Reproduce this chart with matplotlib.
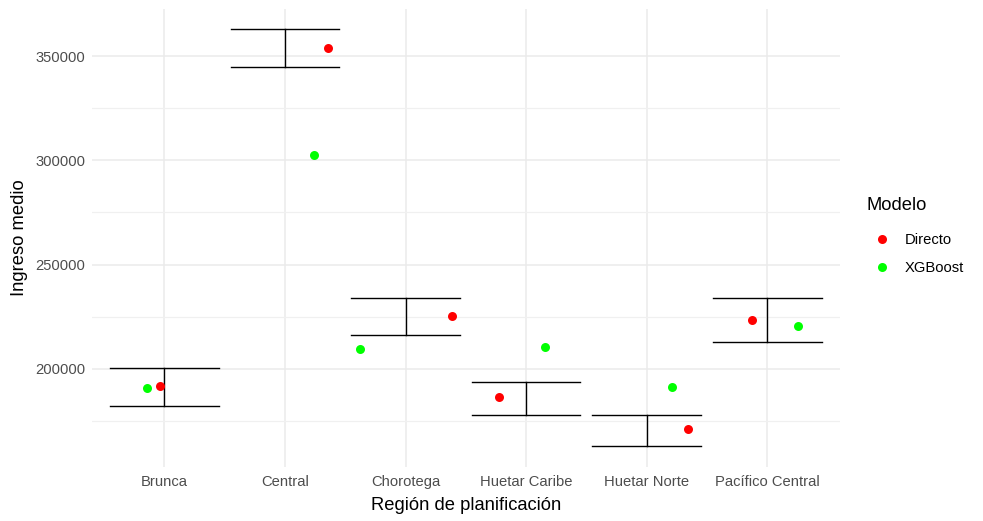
import matplotlib.pyplot as plt
from matplotlib.lines import Line2D
import numpy as np

plt.rcParams['font.family'] = ['Liberation Sans', 'DejaVu Sans']

# datos
regiones = ['Brunca', 'Central', 'Chorotega', 'Huetar Caribe', 'Huetar Norte', 'Pacífico Central']
ic_sup = [200180, 362860, 233790, 193860, 177870, 233790]
ic_inf = [181950, 344630, 216180, 177870, 162990, 212680]
directo = [191950, 353890, 225440, 186590, 171080, 223380]
xgboost = [190850, 302550, 209470, 210580, 191390, 220500]
# desplazamiento horizontal (jitter) de cada punto
jit_directo = [-0.038, 0.354, 0.387, -0.226, 0.343, -0.127]
jit_xgboost = [-0.146, 0.244, -0.376, 0.155, 0.213, 0.255]

fig = plt.figure(figsize=(9.83, 5.21), dpi=100)
ax = fig.add_axes([92 / 983, 1 - 466.7 / 521, (839.7 - 92) / 983, (466.7 - 8.5) / 521])

x = np.arange(1, len(regiones) + 1)

# barras de error (estilo geom_errorbar)
ancho = 0.9
for xi, lo, hi in zip(x, ic_inf, ic_sup):
    ax.plot([xi, xi], [lo, hi], color='black', lw=1.0, zorder=3)
    ax.plot([xi - ancho / 2, xi + ancho / 2], [lo, lo], color='black', lw=1.0, zorder=3)
    ax.plot([xi - ancho / 2, xi + ancho / 2], [hi, hi], color='black', lw=1.0, zorder=3)

ax.scatter(x + np.array(jit_directo), directo, color='#FF0000', s=42, zorder=4, linewidths=0)
ax.scatter(x + np.array(jit_xgboost), xgboost, color='#00FF00', s=42, zorder=4, linewidths=0)

ax.set_xlim(0.4, len(regiones) + 0.6)
ax.set_ylim(153000, 372850)
ax.set_xticks(x)
ax.set_xticklabels(regiones)
ax.set_yticks([200000, 250000, 300000, 350000])
ax.set_yticklabels(['200000', '250000', '300000', '350000'])
ax.set_yticks([175000, 225000, 275000, 325000], minor=True)

# tema minimal
for s in ax.spines.values():
    s.set_visible(False)
ax.grid(which='major', color='#EBEBEB', lw=1.1)
ax.grid(which='minor', axis='y', color='#F0F0F0', lw=0.9)
ax.set_axisbelow(True)
ax.tick_params(which='both', length=0, labelsize=10.6, labelcolor='#4D4D4D')
ax.tick_params(axis='x', pad=6)
ax.tick_params(axis='y', pad=5)

ax.set_xlabel('Región de planificación', fontsize=13.2, labelpad=6)
ax.set_ylabel('Ingreso medio', fontsize=13.2, labelpad=5)

# leyenda
fig.text(866 / 983, 1 - 205.7 / 521, 'Modelo', fontsize=13.2, va='center', ha='left')
handles = [Line2D([], [], marker='o', ls='', color='#FF0000', markersize=6.5, markeredgewidth=0),
           Line2D([], [], marker='o', ls='', color='#00FF00', markersize=6.5, markeredgewidth=0)]
leg = fig.legend(handles, ['Directo', 'XGBoost'], loc='upper left',
                 bbox_to_anchor=(858 / 983, 1 - 220 / 521), frameon=False,
                 fontsize=10.6, labelspacing=0.95,
                 handletextpad=0.9, handlelength=1.4)

fig.savefig('out.png', dpi=100)
